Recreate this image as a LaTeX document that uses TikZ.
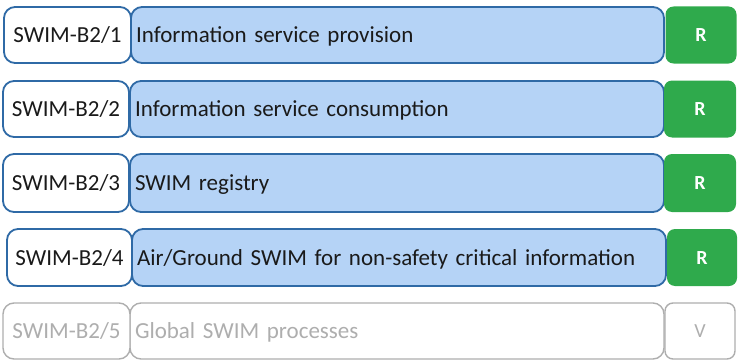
\documentclass[tikz,border=0pt]{standalone}
\usepackage{fontspec}
\setmainfont{Carlito}
\definecolor{bluefill}{HTML}{B5D3F6}
\definecolor{blueline}{HTML}{2F6AA6}
\definecolor{greenfill}{HTML}{2FAA4C}
\definecolor{greyline}{HTML}{AEAEAE}
\definecolor{textdark}{HTML}{1A1A1A}
\tikzset{
  common/.style={text height=15pt, text depth=0pt},
  idbox/.style={common, draw=blueline, line width=1.8pt, fill=white, rounded corners=11pt, text=textdark, font=\fontsize{23}{27}\selectfont, inner sep=0pt},
  titlebox/.style={common, draw=blueline, line width=1.8pt, fill=bluefill, rounded corners=11pt, text=textdark, font=\fontsize{23}{27}\selectfont, inner xsep=5pt, inner ysep=0pt, align=left},
  rbox/.style={text height=13pt, text depth=0pt, fill=greenfill, rounded corners=8pt, text=white, font=\fontsize{20}{24}\selectfont\bfseries, inner sep=0pt},
  gidbox/.style={common, draw=greyline, line width=1.4pt, fill=white, rounded corners=11pt, text=greyline, font=\fontsize{23}{27}\selectfont, inner sep=0pt},
  gtitlebox/.style={common, draw=greyline, line width=1.4pt, fill=white, rounded corners=11pt, text=greyline, font=\fontsize{23}{27}\selectfont, inner xsep=5pt, inner ysep=0pt, align=left},
  vbox/.style={text height=13pt, text depth=0pt, draw=greyline, line width=1.4pt, fill=white, rounded corners=8pt, text=greyline, font=\fontsize{20}{24}\selectfont, inner sep=0pt}
}
\begin{document}
\begin{tikzpicture}[x=1pt,y=-1pt]
\useasboundingbox (0,0) rectangle (738,361);
% row 1
\node[titlebox, minimum width=533pt, minimum height=56pt, text width=523pt] (t1) at (397.5,35) {Information service provision};
\node[idbox, minimum width=127pt, minimum height=56pt] (a1) at (67.5,35) {SWIM-B2/1};
\node[rbox, minimum width=71pt, minimum height=57pt] (r1) at (701,35) {R};
% row 2
\node[titlebox, minimum width=534pt, minimum height=56pt, text width=524pt] (t2) at (397,109) {Information service consumption};
\node[idbox, minimum width=126pt, minimum height=56pt] (a2) at (66,109) {SWIM-B2/2};
\node[rbox, minimum width=72pt, minimum height=57pt] (r2) at (700,109) {R};
% row 3
\node[titlebox, minimum width=534pt, minimum height=58pt, text width=524pt] (t3) at (397,183) {SWIM registry};
\node[idbox, minimum width=126pt, minimum height=58pt] (a3) at (66,183) {SWIM-B2/3};
\node[rbox, minimum width=72pt, minimum height=58pt] (r3) at (700,183) {R};
% row 4
\node[titlebox, minimum width=534pt, minimum height=57pt, text width=524pt] (t4) at (399,257.5) {Air/Ground SWIM for non-safety critical information};
\node[idbox, minimum width=125pt, minimum height=57pt] (a4) at (69.5,257.5) {SWIM-B2/4};
\node[rbox, minimum width=70pt, minimum height=57pt] (r4) at (702,257.5) {R};
% row 5
\node[gtitlebox, minimum width=534pt, minimum height=56pt, text width=524pt] (t5) at (397,331) {Global SWIM processes};
\node[gidbox, minimum width=127pt, minimum height=56pt] (a5) at (66.5,331) {SWIM-B2/5};
\node[vbox, minimum width=70pt, minimum height=56pt] (v5) at (700,331) {V};
\end{tikzpicture}
\end{document}
